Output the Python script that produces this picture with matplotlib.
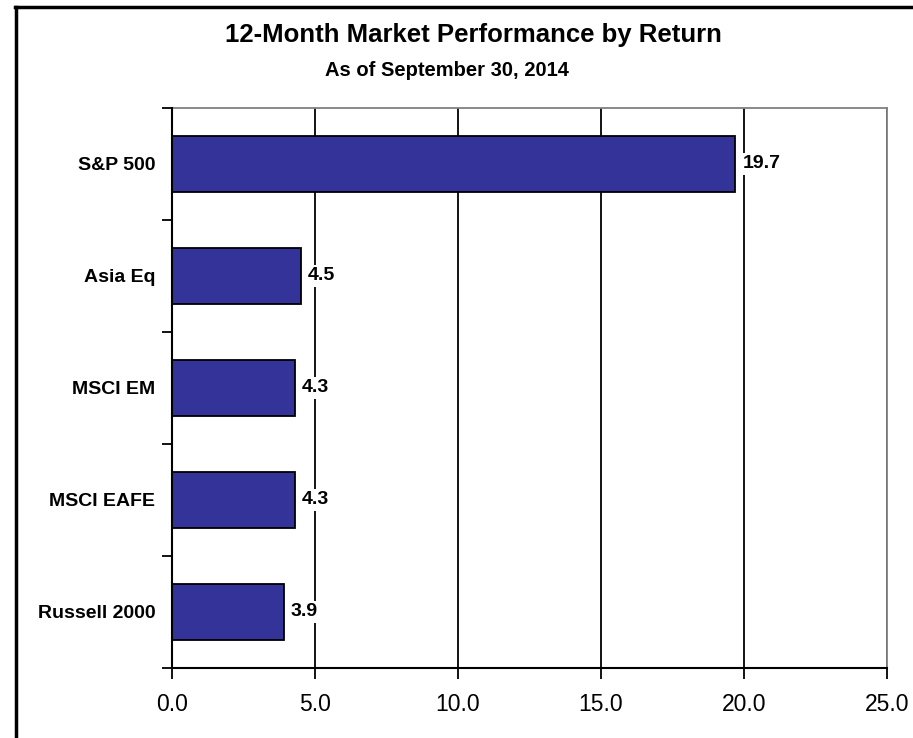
import numpy as np
import matplotlib
matplotlib.use("Agg")
import matplotlib.pyplot as plt
from matplotlib.lines import Line2D

plt.rcParams['font.family'] = ['Liberation Sans', 'DejaVu Sans']

# data
markets = ["S&P 500", "Asia Eq", "MSCI EM", "MSCI EAFE", "Russell 2000"]
returns = [19.7, 4.5, 4.3, 4.3, 3.9]
xticks = [0, 5, 10, 15, 20, 25]

W, H = 913, 738
fig = plt.figure(figsize=(W / 100, H / 100), dpi=100)
ax = fig.add_axes([172 / W, 1 - 668 / H, (887 - 172) / W, (668 - 108) / H])

ypos = np.arange(len(markets))
ax.barh(ypos, returns, height=0.5, color="#333399", edgecolor="black",
        linewidth=1.3, zorder=3)

ax.set_xlim(0, 25)
ax.set_ylim(len(markets) - 0.5, -0.5)

ax.set_xticks(xticks)
ax.set_xticklabels([f"{v:.1f}" for v in xticks], fontsize=16.5)
ax.tick_params(axis="x", direction="out", length=8, width=1.3, pad=10)

# category ticks sit between bars
ax.set_yticks(np.arange(len(markets) + 1) - 0.5)
ax.set_yticklabels([])
ax.set_yticks(ypos, minor=True)
ax.set_yticklabels(markets, minor=True, fontsize=14, fontweight="bold")
ax.tick_params(axis="y", which="major", direction="out", length=7, width=1.3)
ax.tick_params(axis="y", which="minor", length=0, pad=12)

ax.grid(axis="x", color="black", linewidth=1.3, zorder=1)
ax.set_axisbelow(True)

for s in ["top", "right"]:
    ax.spines[s].set_color("#808080")
    ax.spines[s].set_linewidth(1.3)
for s in ["left", "bottom"]:
    ax.spines[s].set_color("black")
    ax.spines[s].set_linewidth(1.5)
    ax.spines[s].set_zorder(4)

for y, v in zip(ypos, returns):
    ax.text(v + 0.25, y, f"{v:.1f}", va="center", ha="left", fontsize=14,
            fontweight="bold", zorder=5,
            bbox=dict(facecolor="white", edgecolor="none", pad=1.5))

fig.text(473 / W, 1 - 35 / H, "12-Month Market Performance by Return",
         ha="center", va="center", fontsize=18.5, fontweight="bold")
fig.text(447 / W, 1 - 71 / H, "As of September 30, 2014",
         ha="center", va="center", fontsize=14.5, fontweight="bold")

# outer frame (left and top edges only visible)
fig.add_artist(Line2D([16 / W, 16 / W], [0, 1 - 7 / H], transform=fig.transFigure,
                      color="black", linewidth=2.5))
fig.add_artist(Line2D([15 / W, 1], [1 - 7 / H, 1 - 7 / H], transform=fig.transFigure,
                      color="black", linewidth=2.5))

fig.savefig("out.png", dpi=100)
